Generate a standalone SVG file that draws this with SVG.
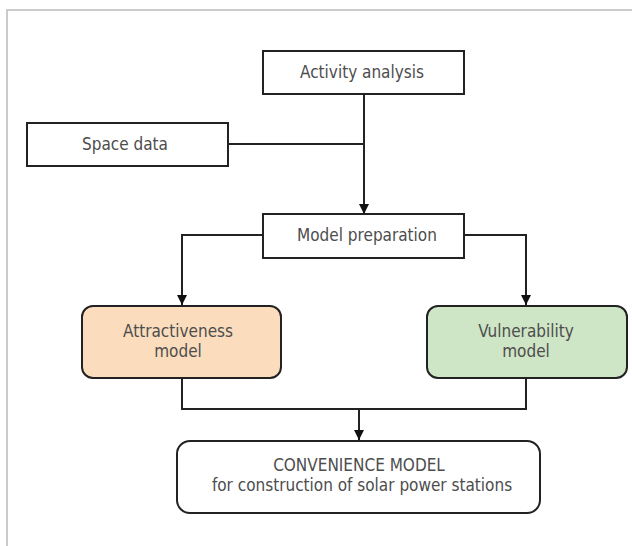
<svg xmlns="http://www.w3.org/2000/svg" width="632" height="546" viewBox="0 0 632 546">
<defs>
<marker id="ah" viewBox="0 0 10 10" refX="10" refY="5" markerWidth="10" markerHeight="10" markerUnits="userSpaceOnUse" orient="auto">
<path d="M0,0 L10,5 L0,10 z" fill="#111"/>
</marker>
<style>
.box{fill:#fff;stroke:#222;stroke-width:2}
.t{font-family:"Liberation Sans Narrow","DejaVu Sans Condensed","Liberation Sans",sans-serif;font-size:17px;fill:#4d4d4d;text-anchor:middle}
.c{fill:none;stroke:#222;stroke-width:2}
</style>
</defs>
<rect width="632" height="546" fill="#fff"/>
<path d="M7,546 V10 H632" fill="none" stroke="#bbb" stroke-width="1.5"/>
<g id="connectors">
<path class="c" d="M364,94 V214" marker-end="url(#ah)"/>
<path class="c" d="M228,144 H364"/>
<path class="c" d="M263,235 H182 V305" marker-end="url(#ah)"/>
<path class="c" d="M464,235 H526 V305" marker-end="url(#ah)"/>
<path class="c" d="M182,378 V409 H526 V378"/>
<path class="c" d="M359,409 V440" marker-end="url(#ah)"/>
</g>
<g id="activity"><rect class="box" x="263" y="51" width="201" height="43"/><text class="t" x="362" y="78">Activity analysis</text></g>
<g id="space"><rect class="box" x="27" y="123" width="201" height="43"/><text class="t" x="125" y="150">Space data</text></g>
<g id="prep"><rect class="box" x="263" y="214" width="201" height="44"/><text class="t" x="367" y="241">Model preparation</text></g>
<g id="attr"><rect class="box" x="82" y="306" width="199" height="72" rx="11" style="fill:#fbddbe"/><text class="t" x="178" y="337">Attractiveness</text><text class="t" x="178" y="357">model</text></g>
<g id="vuln"><rect class="box" x="427" y="306" width="200" height="72" rx="11" style="fill:#cfe6c6"/><text class="t" x="526" y="337">Vulnerability</text><text class="t" x="526" y="357">model</text></g>
<g id="conv"><rect class="box" x="177" y="441" width="363" height="72" rx="13"/><text class="t" x="359" y="471">CONVENIENCE MODEL</text><text class="t" x="362" y="491">for construction of solar power stations</text></g>
</svg>
